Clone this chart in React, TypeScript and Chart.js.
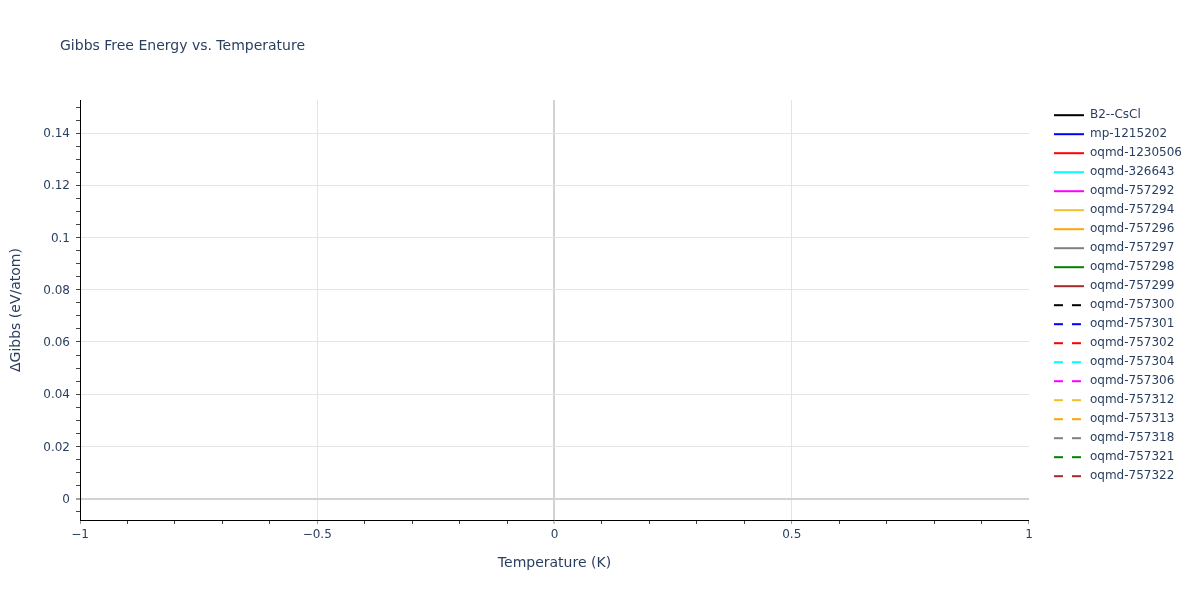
import { useEffect, useRef } from 'react';
import { Chart, registerables } from 'chart.js';

Chart.register(...registerables);

// series shown in the legend (all at T = 0 K, nothing visible on the plot)
const SERIES_NAMES = [
  'B2--CsCl', 'mp-1215202', 'oqmd-1230506', 'oqmd-326643', 'oqmd-757292',
  'oqmd-757294', 'oqmd-757296', 'oqmd-757297', 'oqmd-757298', 'oqmd-757299',
  'oqmd-757300', 'oqmd-757301', 'oqmd-757302', 'oqmd-757304', 'oqmd-757306',
  'oqmd-757312', 'oqmd-757313', 'oqmd-757318', 'oqmd-757321', 'oqmd-757322',
];
const BASE_COLORS = ['#000000', '#0000ff', '#ff0000', '#00ffff', '#ff00ff', '#f0c030', '#ffa500', '#808080', '#008000', '#a52a2a'];
const TEMPERATURES = [0];
const DELTA_G = [0];

const X_MAJOR = [-1, -0.5, 0, 0.5, 1];
const Y_MAJOR = [0, 0.02, 0.04, 0.06, 0.08, 0.1, 0.12, 0.14];
const X_MINOR_STEP = 0.1;
const Y_MINOR_STEP = 0.005;
const X_MIN = -1, X_MAX = 1;
const Y_MIN = -0.0082, Y_MAX = 0.1527;

const TEXT = '#2a3f5f';
const FONT = '"DejaVu Sans", Verdana, sans-serif';

const isMajor = (v: number, majors: number[]) => majors.some(m => Math.abs(m - v) < 1e-9);
const fmt = (v: number) => {
  const s = String(parseFloat(v.toFixed(4)));
  return v < 0 ? '\u2212' + s.slice(1) : s;
};

const titlePlugin = {
  id: 'plotTitle',
  afterDraw(chart: Chart) {
    const ctx = chart.ctx;
    ctx.save();
    ctx.font = `14px ${FONT}`;
    ctx.fillStyle = TEXT;
    ctx.textAlign = 'left';
    ctx.textBaseline = 'alphabetic';
    ctx.fillText('Gibbs Free Energy vs. Temperature', 60, 49.5);
    ctx.restore();
  },
};

export default function App() {
  const canvasRef = useRef<HTMLCanvasElement>(null);

  useEffect(() => {
    if (!canvasRef.current) return;

    const datasets = SERIES_NAMES.map((name, i) => ({
      label: name,
      data: TEMPERATURES.map((t, j) => ({ x: t, y: DELTA_G[j] })),
      borderColor: BASE_COLORS[i % 10],
      backgroundColor: BASE_COLORS[i % 10],
      borderWidth: 2,
      borderDash: i >= 10 ? [9, 9] : [],
      pointRadius: 0,
      pointStyle: 'line' as const,
      showLine: true,
    }));

    const xTicks: number[] = [];
    for (let v = X_MIN; v <= X_MAX + 1e-9; v += X_MINOR_STEP) xTicks.push(Math.round(v * 1000) / 1000);
    const yTicks: number[] = [];
    for (let v = -Y_MINOR_STEP; v <= Y_MAX + 1e-9; v += Y_MINOR_STEP) yTicks.push(Math.round(v * 10000) / 10000);

    const defaultLabels = Chart.defaults.plugins.legend.labels.generateLabels;

    const chart = new Chart(canvasRef.current, {
      type: 'scatter',
      data: { datasets },
      plugins: [titlePlugin],
      options: {
        responsive: true,
        maintainAspectRatio: false,
        animation: false,
        layout: { padding: { top: 100, right: 8, bottom: 0, left: 0 } },
        font: { family: FONT },
        scales: {
          x: {
            type: 'linear',
            min: X_MIN,
            max: X_MAX,
            afterBuildTicks: (s: any) => { s.ticks = xTicks.map(v => ({ value: v })); },
            afterFit: (s: any) => { s.height = 80; },
            border: { color: '#000', width: 1 },
            grid: {
              color: (c: any) => {
                const v = c.tick?.value;
                if (v === undefined) return 'transparent';
                if (Math.abs(v) < 1e-9) return '#d2d2d2';
                if (isMajor(v, X_MAJOR) && Math.abs(v) < 1) return '#e4e4e4';
                return 'transparent';
              },
              lineWidth: (c: any) => (c.tick && Math.abs(c.tick.value) < 1e-9 ? 2 : 1),
              tickColor: (c: any) => (c.tick && isMajor(c.tick.value, X_MAJOR) ? '#999' : '#444'),
              tickWidth: 1,
              tickLength: 4,
            },
            ticks: {
              autoSkip: false,
              maxRotation: 0,
              padding: 4,
              color: TEXT,
              font: { family: FONT, size: 12 },
              callback: (v: any) => (isMajor(Number(v), X_MAJOR) ? fmt(Number(v)) : ''),
            },
            title: {
              display: true,
              text: 'Temperature (K)',
              color: TEXT,
              font: { family: FONT, size: 14 },
              padding: { top: 0, bottom: 28.6 },
            },
          },
          y: {
            type: 'linear',
            min: Y_MIN,
            max: Y_MAX,
            afterBuildTicks: (s: any) => { s.ticks = yTicks.map(v => ({ value: v })); },
            afterFit: (s: any) => { s.width = 80; },
            border: { color: '#000', width: 1 },
            grid: {
              color: (c: any) => {
                const v = c.tick?.value;
                if (v === undefined) return 'transparent';
                if (Math.abs(v) < 1e-9) return '#d2d2d2';
                if (isMajor(v, Y_MAJOR)) return '#e4e4e4';
                return 'transparent';
              },
              lineWidth: (c: any) => (c.tick && Math.abs(c.tick.value) < 1e-9 ? 2 : 1),
              tickColor: '#444',
              tickWidth: 1,
              tickLength: 4,
            },
            ticks: {
              autoSkip: false,
              padding: 6,
              labelOffset: 1,
              color: TEXT,
              font: { family: FONT, size: 12 },
              callback: (v: any) => (isMajor(Number(v), Y_MAJOR) ? fmt(Number(v)) : ''),
            },
            title: {
              display: true,
              text: '\u0394Gibbs (eV/atom)',
              color: TEXT,
              font: { family: FONT, size: 14 },
              padding: { top: 8, bottom: 0 },
            },
          },
          // spacer between the plot area and the legend
          gap: {
            type: 'linear',
            position: 'right',
            display: true,
            grid: { display: false, drawTicks: false },
            ticks: { display: false },
            border: { display: false },
            afterFit: (s: any) => { s.width = 18; },
          },
        },
        plugins: {
          title: { display: false },
          tooltip: { enabled: false },
          legend: {
            position: 'right',
            align: 'start',
            fullSize: false,
            title: { display: true, text: ' ', font: { size: 1 }, padding: { top: 1, bottom: 0 } },
            labels: {
              usePointStyle: true,
              pointStyleWidth: 30,
              padding: 7,
              color: TEXT,
              font: { family: FONT, size: 12 },
              generateLabels: (ch: Chart) =>
                defaultLabels(ch).map(item => {
                  const ds: any = ch.data.datasets[item.datasetIndex as number];
                  return { ...item, lineWidth: 2, lineDash: ds.borderDash, strokeStyle: ds.borderColor, pointStyle: 'line' };
                }),
            },
          },
        },
      },
    });

    return () => chart.destroy();
  }, []);

  return (
    <div style={{ position: 'absolute', left: 0, top: 0, width: 1200, height: 600, background: '#fff' }}>
      <canvas ref={canvasRef} />
    </div>
  );
}
